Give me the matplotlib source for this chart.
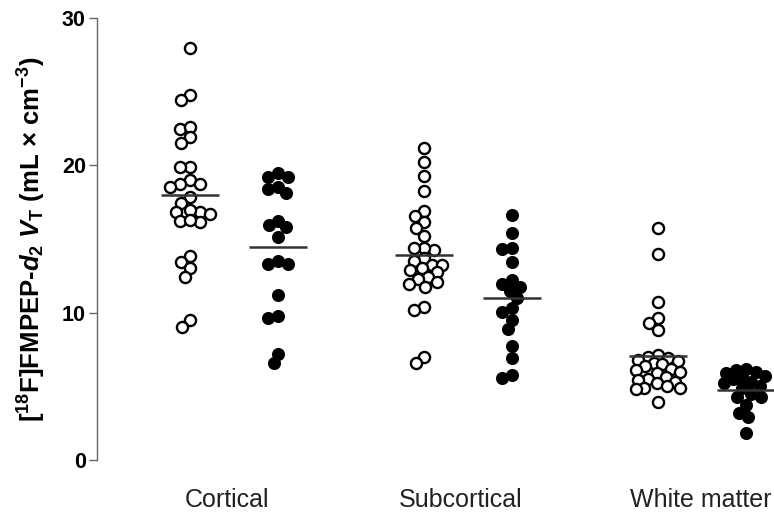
import numpy as np
import matplotlib
matplotlib.use("Agg")
import matplotlib.pyplot as plt

# Values (V_T, mL x cm^-3)
regions = ["Cortical", "Subcortical", "White matter"]

cortical_open = [27.95, 24.78, 24.44, 22.47, 22.63, 21.9, 21.5, 19.9, 19.9, 19.0,
                 18.74, 18.55, 18.74, 17.87, 17.47, 16.86, 16.68, 16.97, 16.86,
                 16.22, 16.18, 16.29, 13.85, 13.46, 13.06, 12.45, 9.5, 9.05]
cortical_filled = [19.19, 19.46, 19.24, 18.38, 18.15, 18.56, 15.95, 15.12, 15.8,
                   16.25, 13.31, 13.31, 13.53, 11.2, 9.8, 9.62, 7.2, 6.56]

subcortical_open = [21.16, 20.25, 19.28, 18.26, 16.93, 16.57, 16.18, 15.73, 15.21,
                    14.26, 14.37, 14.37, 13.69, 13.53, 13.24, 13.24, 13.0, 12.9,
                    12.78, 12.45, 12.27, 12.1, 11.95, 11.77, 10.41, 10.18, 7.01, 6.56]
subcortical_filled = [16.63, 15.43, 14.32, 14.37, 13.46, 12.22, 11.77, 11.93, 11.5,
                      10.98, 10.07, 10.3, 9.5, 8.87, 7.74, 6.95, 5.55, 5.77]

white_open = [15.75, 13.98, 10.75, 9.62, 9.32, 8.83, 7.1, 7.0, 6.9, 6.8, 6.7,
              6.6, 6.5, 6.4, 6.2, 6.1, 6.0, 5.9, 5.6, 5.5, 5.4, 5.3, 5.2,
              5.0, 4.9, 4.8, 4.9, 3.96]
white_filled = [6.2, 6.1, 6.0, 5.9, 5.7, 5.6, 5.5, 5.3, 5.2, 5.0, 4.9, 4.3, 3.7,
                4.3, 4.5, 3.2, 2.9, 1.8]

open_groups = [cortical_open, subcortical_open, white_open]
filled_groups = [cortical_filled, subcortical_filled, white_filled]

# layout
W, H, DPI = 7.74, 5.12, 100
ax_rect = [97 / 774, 52 / 512, 677 / 774, 442 / 512]
xlim = (-0.585, 2.308)
ylim = (0, 30)
px_x = W * DPI * ax_rect[2] / (xlim[1] - xlim[0])
px_y = H * DPI * ax_rect[3] / (ylim[1] - ylim[0])


def swarm(values, dmin=10.0, half=22.0):
    # simple beeswarm in pixel space, returns x offsets in data units
    vals = np.asarray(values, float)
    order = np.argsort(-vals)
    placed = []
    offs = np.zeros(len(vals))
    cand = np.arange(-half, half + 0.5, 1.0)
    cand = cand[np.argsort(np.abs(cand), kind="stable")]
    for i in order:
        y = vals[i] * px_y
        best, best_d = 0.0, -1
        chosen = None
        for c in cand:
            if placed:
                d = min(np.hypot(c - px, y - py) for px, py in placed)
            else:
                d = np.inf
            if d >= dmin:
                chosen = c
                break
            if d > best_d:
                best, best_d = c, d
        if chosen is None:
            chosen = best
        placed.append((chosen, y))
        offs[i] = chosen
    return offs / px_x


plt.rcParams["font.family"] = ["Liberation Sans", "DejaVu Sans"]
plt.rcParams["mathtext.fontset"] = "custom"
plt.rcParams["mathtext.rm"] = "Liberation Sans:bold"
plt.rcParams["mathtext.bf"] = "Liberation Sans:bold"
plt.rcParams["mathtext.it"] = "Liberation Sans:italic:bold"

fig = plt.figure(figsize=(W, H), dpi=DPI)
ax = fig.add_axes(ax_rect)

shift = 0.188
for i, (op, fi) in enumerate(zip(open_groups, filled_groups)):
    xo = i - shift
    xf = i + shift
    ax.plot(xo + swarm(op), op, "o", ms=8.0, mfc="white", mec="black", mew=1.7,
            ls="none", zorder=3)
    ax.plot(xf + swarm(fi), fi, "o", ms=8.2, mfc="black", mec="black", mew=1.2,
            ls="none", zorder=3)
    ax.hlines(np.mean(op), xo - 0.124, xo + 0.124, color="#333333", lw=1.8, zorder=4)
    ax.hlines(np.mean(fi), xf - 0.124, xf + 0.124, color="#333333", lw=1.8, zorder=4)

ax.set_xlim(*xlim)
ax.set_ylim(*ylim)
ax.set_yticks([0, 10, 20, 30])
ax.set_xticks([-0.03, -0.03 + 1, 2 - 0.005])
ax.set_xticklabels(regions, fontsize=18)
ax.tick_params(axis="x", length=0, pad=20, colors="#222222")
ax.tick_params(axis="y", length=6, width=1.0, color="#666666", pad=2, labelsize=15.5)
for t in ax.get_yticklabels():
    t.set_fontweight("bold")
for s in ["top", "right", "bottom"]:
    ax.spines[s].set_visible(False)
ax.spines["left"].set_color("#666666")
ax.spines["left"].set_linewidth(1.0)

ax.set_ylabel(r"[$^{18}$F]FMPEP-$d_2$ $V_{\mathrm{T}}$ (mL $\times$ cm$^{-3}$)",
              fontsize=18.5, fontweight="bold", labelpad=10)

fig.savefig("out.png", dpi=DPI)
